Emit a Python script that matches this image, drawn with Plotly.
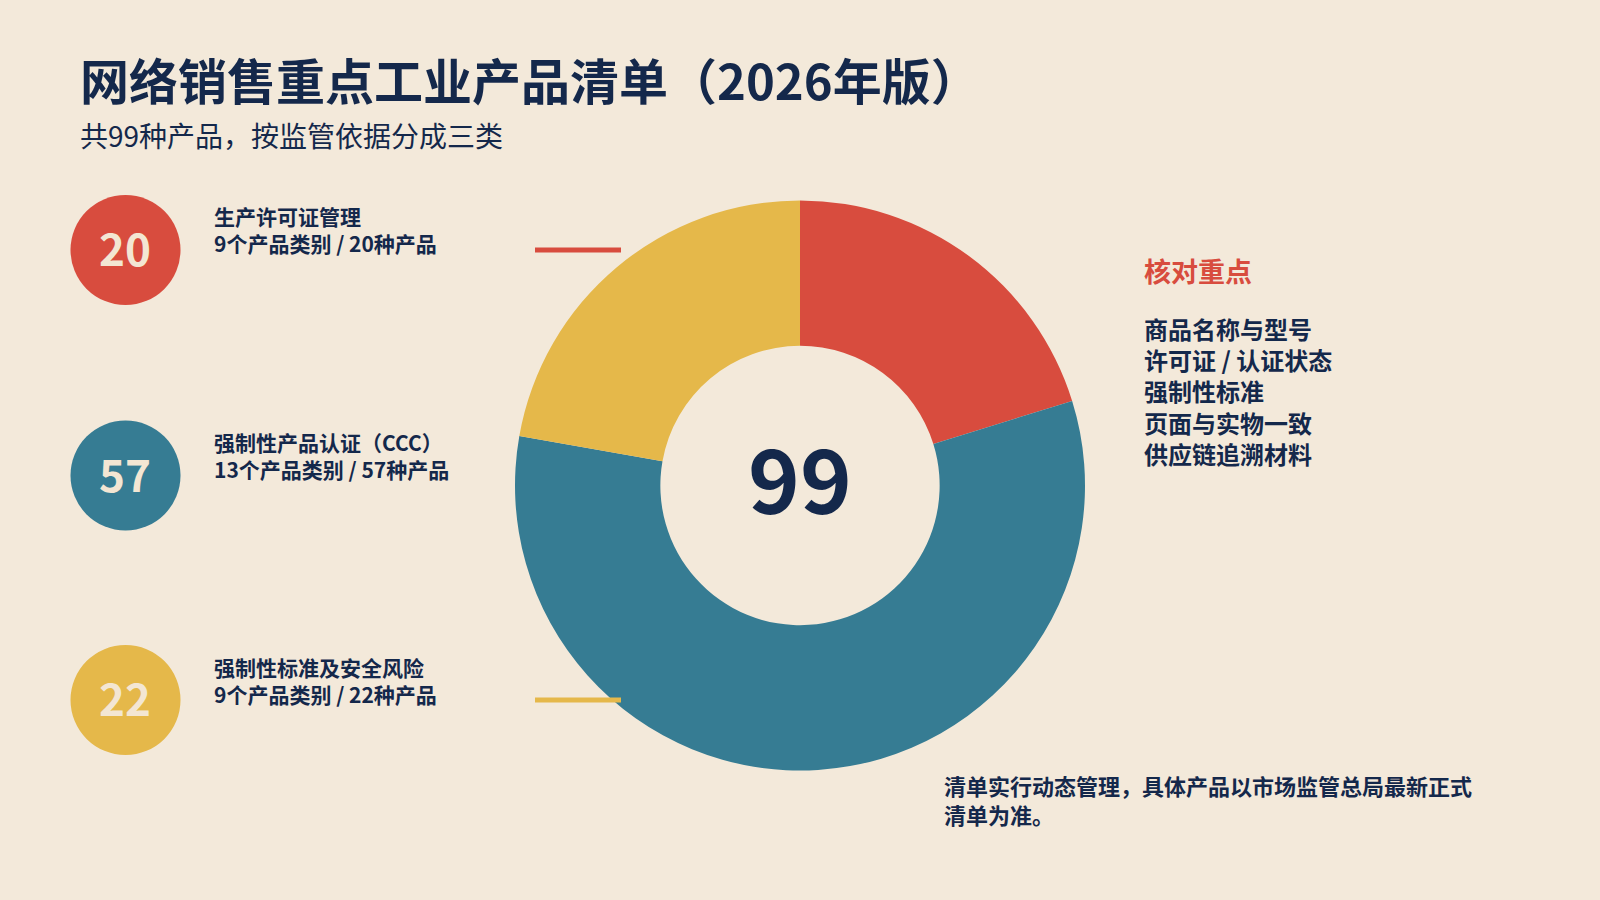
import plotly.graph_objects as go

W, H = 1600, 900

# ---- data ----
categories = ["生产许可证管理", "强制性产品认证（CCC）", "强制性标准及安全风险"]
product_counts = [20, 57, 22]
class_counts = [9, 13, 9]
slice_colors = ["#D84C3E", "#367C93", "#E5B84A"]
total_label = "99"
check_title = "核对重点"
check_items = ["商品名称与型号", "许可证 / 认证状态", "强制性标准", "页面与实物一致", "供应链追溯材料"]
footer_lines = ["清单实行动态管理，具体产品以市场监管总局最新正式", "清单为准。"]
title_text = "网络销售重点工业产品清单（2026年版）"
subtitle_text = "共99种产品，按监管依据分成三类"

BG = "#F3E9DA"
NAVY = "#14284B"
CREAM = "#F3E6D3"
FONT = "Noto Sans CJK SC"

def px(x):
    return x / W

def py(y):
    return 1 - y / H

# donut geometry (pixels)
cx, cy, R = 800, 485.5, 285

fig = go.Figure()
fig.add_trace(go.Pie(
    labels=categories,
    values=product_counts,
    marker=dict(colors=slice_colors, line=dict(width=0)),
    hole=0.49,
    sort=False,
    direction="clockwise",
    rotation=0,
    textinfo="none",
    hoverinfo="label+value",
    showlegend=False,
    domain=dict(x=[px(cx - R), px(cx + R)], y=[py(cy + R), py(cy - R)]),
))

shapes = []
annotations = []

def text(x, y, s, size, color=NAVY, weight="bold", xanchor="left"):
    annotations.append(dict(
        x=px(x), y=py(y), xref="paper", yref="paper", text=s, showarrow=False,
        xanchor=xanchor, yanchor="middle", align="left",
        font=dict(family=FONT, size=size, color=color, weight=weight),
    ))

# title
text(78, 78, title_text, 49)
text(78, 135, subtitle_text, 28, weight="normal")

# center total
text(cx, 476, total_label, 88, xanchor="center")

# left circles and labels
circle_y = [250, 475.5, 700]
for i, (cat, n, k, col) in enumerate(zip(categories, product_counts, class_counts, slice_colors)):
    yc = circle_y[i]
    shapes.append(dict(type="circle", xref="paper", yref="paper",
                       x0=px(125.5 - 55), x1=px(125.5 + 55),
                       y0=py(yc + 55), y1=py(yc - 55),
                       fillcolor=col, line=dict(width=0), layer="above"))
    text(125.5, yc - 3, str(n), 44, color=CREAM, xanchor="center")
    text(212, yc - 20, f"{cat}<br>{k}个产品类别 / {n}种产品", 21)

# short accent lines
for yl, col in [(250, slice_colors[0]), (700, slice_colors[2])]:
    shapes.append(dict(type="line", xref="paper", yref="paper",
                       x0=px(535), x1=px(621), y0=py(yl), y1=py(yl),
                       line=dict(color=col, width=5), layer="above"))

# right panel
text(1142, 270, check_title, 27, color=slice_colors[0])
text(1142, 391, "<br>".join(check_items), 24)

# footer
text(942, 799, "<br>".join(footer_lines), 22)

fig.update_layout(
    width=W, height=H,
    margin=dict(l=0, r=0, t=0, b=0),
    paper_bgcolor=BG, plot_bgcolor=BG,
    shapes=shapes, annotations=annotations,
    showlegend=False,
)

fig.write_html("out.html", config={"displayModeBar": False})
